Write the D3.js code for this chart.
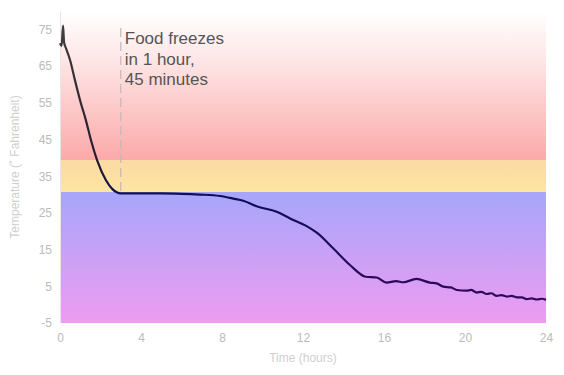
<!DOCTYPE html>
<html>
<head>
<meta charset="utf-8">
<script src="https://cdn.jsdelivr.net/npm/d3@7"></script>
<style>
  body { margin: 0; background: #fff; }
  svg { display: block; font-family: Arial, "Liberation Sans", sans-serif; }
  .tick text { fill: #bbb; font-size: 12px; }
</style>
</head>
<body>
<div id="chart"></div>
<script>
// data
var hours = [0, 0.08, 0.15, 0.2, 0.3, 0.5, 0.74, 0.99, 1.28, 1.53, 1.83, 2.27, 2.6, 2.8, 3.0,
  4, 5, 6, 6.9, 7.9, 8.56, 9.05, 9.71, 10.7, 11.36, 12.18, 12.68, 13.5, 14.32, 15.1, 15.64,
  16.13, 16.6, 16.95, 17.6, 18.27, 18.6, 18.93, 19.3, 19.59, 20.08, 20.3, 20.58, 20.8, 21.07,
  21.3, 21.56, 21.8, 22.06, 22.3, 22.55, 22.8, 23.05, 23.3, 23.54, 23.8, 24];
var temps = [71.2, 70.5, 76, 71.5, 69.8, 66.6, 61.1, 55.7, 50.2, 44.8, 39.4, 33.9, 31.4, 30.6, 30.3,
  30.3, 30.3, 30.2, 30.0, 29.6, 28.9, 28.3, 26.8, 25.3, 23.5, 21.4, 19.6, 15.3, 10.8, 7.6, 7.4,
  6.0, 6.4, 6.1, 7.0, 6.0, 5.8, 4.9, 4.7, 4.0, 3.8, 4.0, 3.3, 3.5, 2.9,
  3.1, 2.4, 2.6, 2.2, 2.4, 2.0, 2.0, 1.5, 1.7, 1.4, 1.6, 1.3];

var yTicks = [-5, 5, 15, 25, 35, 45, 55, 65, 75];
var xTicks = [0, 4, 8, 12, 16, 20, 24];

var freezeLine = 30.7;   // top of blue band
var dangerLine = 39.4;   // top of yellow band
var freezeHour = 3;
var note = ["Food freezes", "in 1 hour,", "45 minutes"];

var svgWidth = 564, svgHeight = 375;
var margin = {top: 11, right: 18, bottom: 52, left: 60};
var width = svgWidth - margin.left - margin.right;
var height = svgHeight - margin.top - margin.bottom;

var svg = d3.select("#chart").append("svg")
  .attr("width", svgWidth)
  .attr("height", svgHeight);

var defs = svg.append("defs");
function grad(id, stops) {
  var g = defs.append("linearGradient").attr("id", id)
    .attr("x1", 0).attr("y1", 0).attr("x2", 0).attr("y2", 1);
  stops.forEach(function(s) {
    g.append("stop").attr("offset", s[0]).attr("stop-color", s[1]);
  });
}
grad("gRed", [[0, "#ffffff"], [0.35, "#fee4e4"], [1, "#fca9a9"]]);
grad("gYel", [[0, "#fcd9a4"], [1, "#fde6a2"]]);
grad("gBlue", [[0, "#a6a6fb"], [1, "#ee9cf1"]]);

var chartGroup = svg.append("g")
  .attr("transform", `translate(${margin.left}, ${margin.top})`);

var xScale = d3.scaleLinear().domain([0, 24]).range([0, width]);
var yScale = d3.scaleLinear().domain([-5, 80]).range([height, 0]);

// line colour follows height
var lg = defs.append("linearGradient").attr("id", "gLine")
  .attr("gradientUnits", "userSpaceOnUse")
  .attr("x1", 0).attr("x2", 0)
  .attr("y1", yScale(80)).attr("y2", yScale(-5));
lg.append("stop").attr("offset", 0).attr("stop-color", "#444040");
lg.append("stop").attr("offset", 0.5).attr("stop-color", "#221a30");
lg.append("stop").attr("offset", 0.6).attr("stop-color", "#0d0d55");
lg.append("stop").attr("offset", 1).attr("stop-color", "#3a0660");

// bands
chartGroup.append("rect")
  .attr("x", 0).attr("width", width)
  .attr("y", yScale(80)).attr("height", yScale(dangerLine) - yScale(80))
  .attr("fill", "url(#gRed)");
chartGroup.append("rect")
  .attr("x", 0).attr("width", width)
  .attr("y", yScale(dangerLine)).attr("height", yScale(freezeLine) - yScale(dangerLine))
  .attr("fill", "url(#gYel)");
chartGroup.append("rect")
  .attr("x", 0).attr("width", width)
  .attr("y", yScale(freezeLine)).attr("height", yScale(-5) - yScale(freezeLine))
  .attr("fill", "url(#gBlue)");

// axes
var leftAxis = d3.axisLeft(yScale).tickValues(yTicks).tickSize(0).tickPadding(8)
  .tickFormat(function(d) { return String(d); });
var bottomAxis = d3.axisBottom(xScale).tickValues(xTicks).tickSize(0).tickPadding(10);

var ly = chartGroup.append("g").call(leftAxis);
ly.select(".domain").attr("stroke", "#e6e6e6");
var bx = chartGroup.append("g")
  .attr("transform", `translate(0, ${height})`)
  .call(bottomAxis);
bx.select(".domain").remove();
chartGroup.selectAll(".tick text").attr("font-family", "Arial, 'Liberation Sans', sans-serif");

// dashed marker
chartGroup.append("line")
  .attr("x1", xScale(freezeHour)).attr("x2", xScale(freezeHour))
  .attr("y1", yScale(75.4)).attr("y2", yScale(30.3))
  .attr("stroke", "#c4b8b8")
  .attr("stroke-width", 1.2)
  .attr("stroke-dasharray", "9,5");

// curve
var line = d3.line()
  .x(function(d, i) { return xScale(hours[i]); })
  .y(function(d) { return yScale(d); })
  .curve(d3.curveMonotoneX);

chartGroup.append("path")
  .datum(temps)
  .attr("d", line)
  .attr("fill", "none")
  .attr("stroke", "url(#gLine)")
  .attr("stroke-width", 2.2)
  .attr("stroke-linejoin", "round");

// note
var t = chartGroup.append("text")
  .attr("x", xScale(freezeHour) + 4)
  .attr("y", 33)
  .attr("fill", "#555")
  .attr("font-size", "17px");
note.forEach(function(s, i) {
  t.append("tspan").attr("x", xScale(freezeHour) + 4).attr("dy", i ? 20.5 : 0).text(s);
});

// axis titles
svg.append("text")
  .attr("x", margin.left + width / 2)
  .attr("y", 362)
  .attr("text-anchor", "middle")
  .attr("fill", "#cfcfcf")
  .attr("font-size", "12px")
  .text("Time (hours)");

svg.append("text")
  .attr("transform", `translate(19, ${margin.top + height / 2}) rotate(-90)`)
  .attr("text-anchor", "middle")
  .attr("fill", "#cfcfcf")
  .attr("font-size", "12px")
  .text("Temperature (\u02da Fahrenheit)");
</script>
</body>
</html>
